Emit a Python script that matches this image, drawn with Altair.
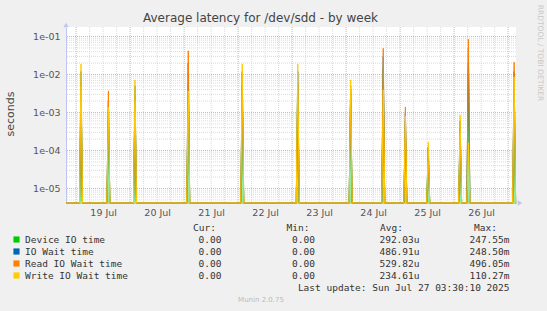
import altair as alt
import pandas as pd

# ---------------- data ----------------
START = "2025-07-18T19:30:00Z"
END = "2025-07-27T03:30:00Z"
Y_MIN = 4.15e-6
Y_MAX = 0.178

series_names = ["Device IO time", "IO Wait time", "Read IO Wait time", "Write IO Wait time"]
series_colors = ["#00CC00", "#0066B3", "#FF8000", "#FFCC00"]

spike_times = [
    "2025-07-19T02:10:00Z", "2025-07-19T14:20:00Z", "2025-07-20T02:10:00Z",
    "2025-07-21T01:50:00Z", "2025-07-22T01:50:00Z", "2025-07-23T02:30:00Z",
    "2025-07-24T02:00:00Z", "2025-07-24T16:30:00Z", "2025-07-25T02:20:00Z",
    "2025-07-25T12:30:00Z", "2025-07-26T02:40:00Z", "2025-07-26T06:20:00Z",
    "2025-07-27T02:40:00Z",
]
device_io = [0.006, 0.0006, 0.003, 0.003, 0.005, 0.006, 0.004, 0.015, 0.0006, 0.00012, 0.0004, 0.02, 0.004]
io_wait = [0.012, 0.002, 0.005, 0.02, 0.012, 0.012, 0.005, 0.03, 0.001, 0.00012, 0.0006, 0.05, 0.012]
read_wait = [0.005, 0.0037, 0.002, 0.042, 0.004, 0.006, 0.003, 0.049, 0.0014, 0.00005, 0.0003, 0.085, 0.021]
write_wait = [0.019, 0.0014, 0.0072, 0.0037, 0.019, 0.019, 0.0072, 0.004, 0.0008, 0.000166, 0.00085, 0.00016, 0.0087]
series_values = [device_io, io_wait, read_wait, write_wait]

cur_vals = ["0.00", "0.00", "0.00", "0.00"]
min_vals = ["0.00", "0.00", "0.00", "0.00"]
avg_vals = ["292.03u", "486.91u", "529.82u", "234.61u"]
max_vals = ["247.55m", "248.50m", "496.05m", "110.27m"]

title_text = "Average latency for /dev/sdd - by week"
y_title = "seconds"
last_update = "Last update: Sun Jul 27 03:30:10 2025"
footer = "Munin 2.0.75"
watermark = "RRDTOOL / TOBI OETIKER"
label_days = [19, 20, 21, 22, 23, 24, 25, 26]
y_ticks = [1e-5, 1e-4, 1e-3, 1e-2, 1e-1]

# ---------------- layout ----------------
PL, PT, W, H = 66, 27, 450, 176
FONT = "DejaVu Sans"
MONO = "DejaVu Sans Mono"
AXIS_COL = "#C0C4F0"

half = pd.Timedelta(minutes=40)


def series_frame(vals):
    rows = [(pd.Timestamp(START), Y_MIN)]
    for t, v in zip(spike_times, vals):
        if v > 0:
            ts = pd.Timestamp(t)
            rows += [(ts - half, Y_MIN), (ts, v), (ts + half, Y_MIN)]
    rows.append((pd.Timestamp(END), Y_MIN))
    df = pd.DataFrame(rows, columns=["t", "v"])
    df["t"] = df["t"].dt.strftime("%Y-%m-%dT%H:%M:%SZ")
    df["base"] = Y_MIN
    return df


def dt(day, hour, minute=0):
    return alt.DateTime(year=2025, month=7, date=day, hours=hour, minutes=minute, utc=True)


x_scale = alt.Scale(type="utc", domain=[dt(18, 19, 30), dt(27, 3, 30)])
y_scale = alt.Scale(type="log", domain=[Y_MIN, Y_MAX], nice=False)

x_axis = alt.Axis(values=[dt(d, 12) for d in label_days], format="%d %b", title=None,
                  grid=False, ticks=False, labelFont=FONT, labelFontSize=9.5,
                  labelColor="#555555", labelPadding=4, domainColor=AXIS_COL,
                  labelFlush=False)
y_axis = alt.Axis(values=y_ticks, labelExpr="'1e-0' + round(-log(datum.value)/LN10)",
                  title=None, grid=False, ticks=False, labelFont=FONT, labelFontSize=9.5,
                  labelColor="#555555", labelPadding=6, domainColor=AXIS_COL)

X = lambda f, t="T": alt.X(f"{f}:{t}", scale=x_scale, axis=x_axis)
Y = lambda f: alt.Y(f"{f}:Q", scale=y_scale, axis=y_axis)

# grid
vg = pd.date_range("2025-07-19T00:00:00Z", "2025-07-27T00:00:00Z", freq="6h")
vgrid = pd.DataFrame({"t": vg.strftime("%Y-%m-%dT%H:%M:%SZ"), "major": vg.hour == 0})
hvals, hmaj = [], []
for k in range(-6, 0):
    for m in range(1, 10):
        v = m * 10.0 ** k
        if Y_MIN <= v <= Y_MAX:
            hvals.append(v)
            hmaj.append(m == 1)
hgrid = pd.DataFrame({"v": hvals, "major": hmaj})

RED, GRAY = "#F0A8A8", "#DADADA"
vminor = alt.Chart(vgrid[~vgrid.major]).mark_rule(color=GRAY, strokeDash=[1, 1], strokeWidth=1).encode(x=X("t"))
hminor = alt.Chart(hgrid[~hgrid.major]).mark_rule(color=GRAY, strokeDash=[1, 1], strokeWidth=1).encode(y=Y("v"))
vmajor = alt.Chart(vgrid[vgrid.major]).mark_rule(color=RED, strokeDash=[1, 1], strokeWidth=1).encode(x=X("t"))
hmajor = alt.Chart(hgrid[hgrid.major]).mark_rule(color=RED, strokeDash=[1, 1], strokeWidth=1).encode(y=Y("v"))

# series
layers_series = []
dev_df = series_frame(device_io)
layers_series.append(
    alt.Chart(dev_df).mark_area(color=series_colors[0], opacity=0.4, interpolate="linear")
    .encode(x=X("t"), y=Y("v"), y2="base:Q")
)
for name, col, vals in zip(series_names, series_colors, series_values):
    layers_series.append(
        alt.Chart(series_frame(vals)).mark_line(color=col, strokeWidth=1, interpolate="linear")
        .encode(x=X("t"), y=Y("v"))
    )

# axis arrows
arrows_df = pd.DataFrame({"t": [START, END], "v": [Y_MAX, Y_MIN]})
arrow_up = alt.Chart(arrows_df.iloc[[0]]).mark_point(shape="triangle-up", filled=True, color=AXIS_COL,
                                                     size=28, yOffset=-2, opacity=1).encode(x=X("t"), y=Y("v"))
arrow_rt = alt.Chart(arrows_df.iloc[[1]]).mark_point(shape="triangle-right", filled=True, color=AXIS_COL,
                                                     size=28, xOffset=4, opacity=1).encode(x=X("t"), y=Y("v"))


# ---------------- texts ----------------
def txt(df, **kw):
    return alt.Chart(df).mark_text(**kw).encode(
        x=alt.X("px:Q", scale=None), y=alt.Y("py:Q", scale=None), text="text:N")


def frame(items):
    return pd.DataFrame([{"text": s, "px": x - PL, "py": y - PT} for s, x, y in items])


title_l = txt(frame([(title_text, 260.5, 18)]), font=FONT, fontSize=12, color="#444444",
              align="center", baseline="middle")
ytitle_l = txt(frame([(y_title, 11, 114)]), font=FONT, fontSize=11, color="#444444",
               align="center", baseline="middle", angle=270)
wm_l = txt(frame([(watermark, 540, 53)]), font=FONT, fontSize=7.5, color="#C8C8C8",
           align="center", baseline="middle", angle=90)
footer_l = txt(frame([(footer, 261, 300)]), font=FONT, fontSize=7, color="#BBBBBB",
               align="center", baseline="middle")

row_y = [239.5, 251.5, 263.5, 275.5]
left_items = [(n, 25, y) for n, y in zip(series_names, row_y)]
right_items = [("Cur:", 216, 228), ("Min:", 309.5, 228), ("Avg:", 403, 228), ("Max:", 497, 228)]
for i, y in enumerate(row_y):
    right_items += [(cur_vals[i], 221.5, y), (min_vals[i], 315, y), (avg_vals[i], 419.5, y), (max_vals[i], 509.5, y)]
right_items.append((last_update, 509.5, 287.5))

leg_left = txt(frame(left_items), font=MONO, fontSize=9.5, color="#333333", align="left", baseline="middle")
leg_right = txt(frame(right_items), font=MONO, fontSize=9.5, color="#333333", align="right", baseline="middle")

sq = pd.DataFrame({"name": series_names, "color": series_colors,
                   "px": [16.5 - PL] * 4, "py": [y - PT for y in row_y]})
squares = alt.Chart(sq).mark_square(size=38, opacity=1).encode(
    x=alt.X("px:Q", scale=None), y=alt.Y("py:Q", scale=None),
    color=alt.Color("color:N", scale=None))

chart = alt.layer(
    vminor, hminor, vmajor, hmajor, *layers_series, arrow_up, arrow_rt,
    title_l, ytitle_l, wm_l, footer_l, leg_left, leg_right, squares
).properties(
    width=W, height=H, background="#F0F0F0",
    autosize=alt.AutoSizeParams(type="none"),
    padding={"left": PL, "top": PT, "right": 547 - PL - W, "bottom": 311 - PT - H},
).configure_view(fill="#FFFFFF", stroke=None)

chart.save("out.html", embed_options={"renderer": "svg", "actions": False})
